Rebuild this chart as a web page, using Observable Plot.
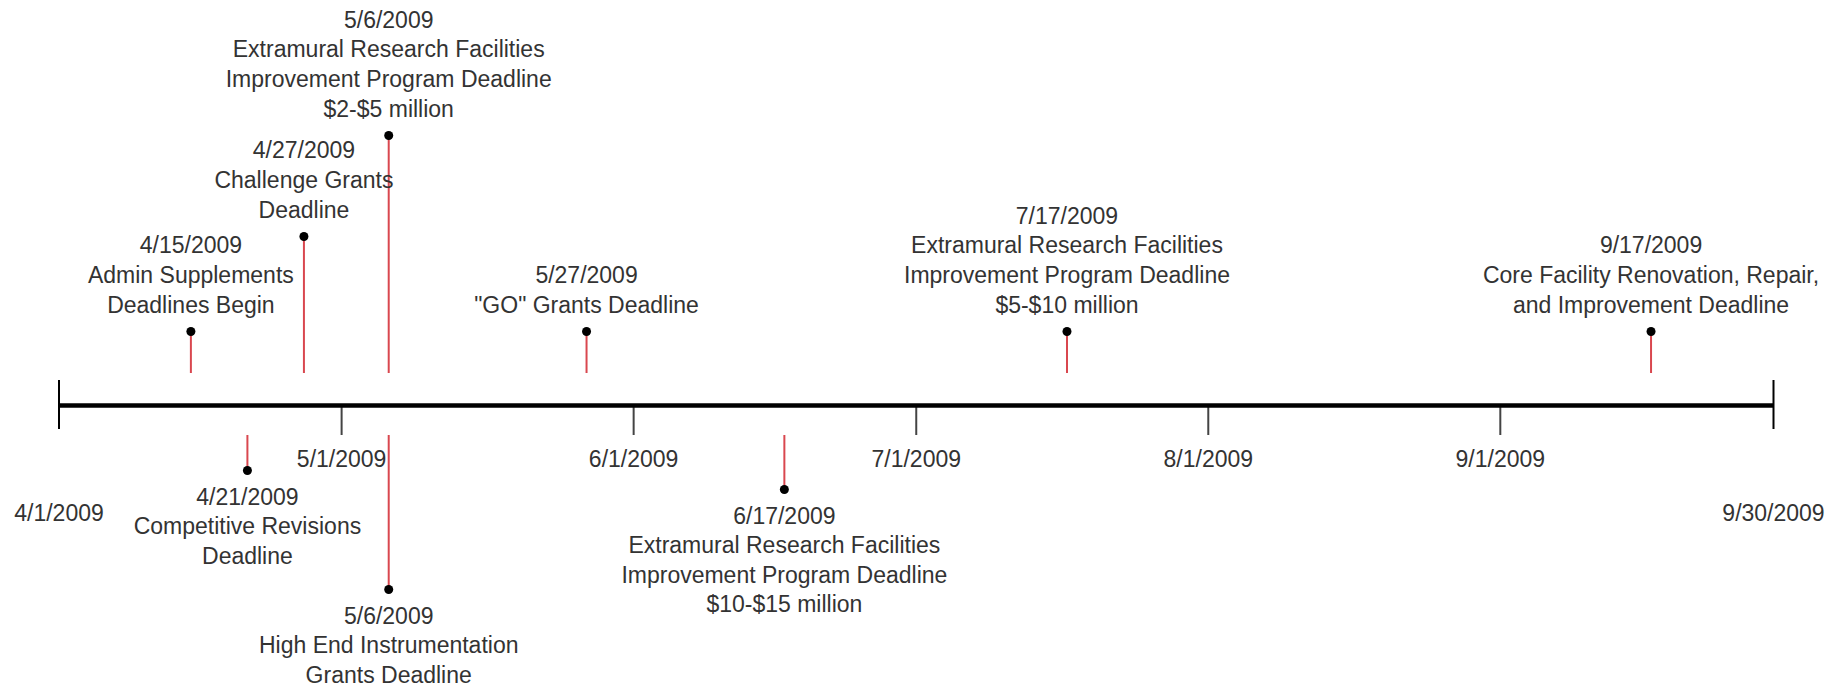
<!DOCTYPE html>
<html><head><meta charset="utf-8">
<script src="https://cdn.jsdelivr.net/npm/d3@7"></script>
<script src="https://cdn.jsdelivr.net/npm/@observablehq/plot@0.6"></script>
<style>body{margin:0;background:#fff}</style>
</head><body><div id="chart"></div>
<script>
// Timeline events
const eventDates = ["2009-04-15", "2009-04-21", "2009-04-27", "2009-05-06", "2009-05-06", "2009-05-27", "2009-06-17", "2009-07-17", "2009-09-17"];
const eventNames = [
  "Admin Supplements\nDeadlines Begin",
  "Competitive Revisions\nDeadline",
  "Challenge Grants\nDeadline",
  "Extramural Research Facilities\nImprovement Program Deadline\n$2-$5 million",
  "High End Instrumentation\nGrants Deadline",
  "\"GO\" Grants Deadline",
  "Extramural Research Facilities\nImprovement Program Deadline\n$10-$15 million",
  "Extramural Research Facilities\nImprovement Program Deadline\n$5-$10 million",
  "Core Facility Renovation, Repair,\nand Improvement Deadline"
];
// stem height of each event marker (positive above the line, negative below)
const eventLevels = [74, -65, 169, 270, -184, 74, -84, 74, 74];
// axis ticks
const monthTicks = ["2009-05-01", "2009-06-01", "2009-07-01", "2009-08-01", "2009-09-01"];
const endTicks = ["2009-04-01", "2009-09-30"];

const fmt = d3.utcFormat("%-m/%-d/%Y");
const events = eventDates.map((d, i) => ({
  date: new Date(d),
  level: eventLevels[i],
  label: fmt(new Date(d)) + "\n" + eventNames[i]
}));
const above = events.filter(d => d.level > 0);
const below = events.filter(d => d.level < 0);
const months = monthTicks.map(d => new Date(d));
const ends = endTicks.map(d => new Date(d));

const font = "'Liberation Sans', Arial, Helvetica, sans-serif";
const chart = Plot.plot({
  width: 1835,
  height: 685,
  marginLeft: 58.5,
  marginRight: 62,
  marginTop: 0,
  marginBottom: 280,
  x: {type: "utc", domain: ends},
  y: {domain: [-280, 405], range: [685, 0], axis: null},
  style: {fontFamily: font, fontSize: "23px", color: "#333", background: "#fff"},
  marks: [
    Plot.ruleX(above, {x: "date", y1: 32, y2: "level", stroke: "#d9474f", strokeWidth: 2}),
    Plot.ruleX(below, {x: "date", y1: -30, y2: "level", stroke: "#d9474f", strokeWidth: 2}),
    Plot.dot(events, {x: "date", y: "level", r: 4.5, fill: "#000", stroke: "none"}),
    Plot.text(above, {x: "date", y: "level", text: "label", lineAnchor: "bottom", dy: -19, lineHeight: 1.283, fontSize: 23, fill: "#333"}),
    Plot.text(below, {x: "date", y: "level", text: "label", lineAnchor: "top", dy: 13.5, lineHeight: 1.283, fontSize: 23, fill: "#333"}),
    Plot.axisX(months, {anchor: "bottom", tickSize: 30, tickPadding: 15, tickFormat: fmt, stroke: "#444", strokeWidth: 2, fontSize: 23, fill: "#333"}),
    Plot.axisX(ends, {anchor: "bottom", tickSize: 0, tickPadding: 99, tickFormat: fmt, fontSize: 23, fill: "#333"}),
    Plot.ruleX(ends, {y1: -24, y2: 25, stroke: "#000", strokeWidth: 2}),
    Plot.ruleY([0], {x1: ends[0], x2: ends[1], stroke: "#000", strokeWidth: 4.5})
  ]
});
document.getElementById("chart").appendChild(chart);
</script>
</body></html>
